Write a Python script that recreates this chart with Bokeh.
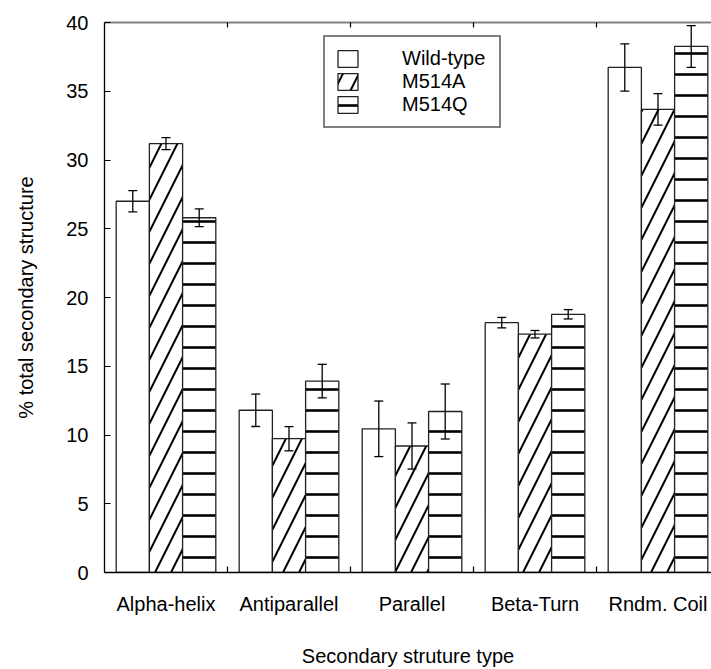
import numpy as np
from bokeh.plotting import figure
from bokeh.models import (ColumnDataSource, Whisker, TeeHead, FixedTicker, LinearAxis,
                          Legend, LegendItem, Range1d)
from bokeh.embed import file_html
from bokeh.resources import INLINE

# ---------------- data ----------------
categories = ["Alpha-helix", "Antiparallel", "Parallel", "Beta-Turn", "Rndm. Coil"]
series_names = ["Wild-type", "M514A", "M514Q"]
wild_type = [27.0, 11.8, 10.45, 18.17, 36.73]
wild_type_err = [0.77, 1.18, 2.02, 0.38, 1.72]
m514a = [31.19, 9.73, 9.2, 17.33, 33.68]
m514a_err = [0.44, 0.88, 1.68, 0.27, 1.15]
m514q = [25.8, 13.92, 11.71, 18.78, 38.26]
m514q_err = [0.65, 1.22, 2.0, 0.34, 1.52]
y_ticks = [0, 5, 10, 15, 20, 25, 30, 35, 40]
y_label = "% total secondary structure"
x_label = "Secondary struture type"

FONT = "Liberation Sans"

n = len(categories)
centers = np.arange(n) + 0.5
boundaries = list(np.arange(1, n).astype(float))
bar_w = 0.27
offsets = [-bar_w, 0.0, bar_w]

p = figure(width=711, height=669, output_backend="svg", toolbar_location=None,
           x_range=Range1d(0, 607 / 123), y_range=Range1d(0, 40),
           min_border_left=104, min_border_right=0, min_border_top=22, min_border_bottom=96,
           tools="")
p.outline_line_color = None
p.xgrid.visible = False
p.ygrid.visible = False
p.background_fill_color = "white"
p.border_fill_color = "white"

styles = [
    dict(),
    dict(hatch_pattern="/", hatch_scale=32, hatch_weight=2.0, hatch_color="black"),
    dict(hatch_pattern="-", hatch_scale=21, hatch_weight=2.6, hatch_color="black"),
]

vals = [wild_type, m514a, m514q]
errs = [wild_type_err, m514a_err, m514q_err]
renderers = []
for k in range(3):
    xs = centers + offsets[k]
    src = ColumnDataSource(dict(x=xs, top=vals[k],
                                upper=np.array(vals[k]) + np.array(errs[k]),
                                lower=np.array(vals[k]) - np.array(errs[k])))
    r = p.vbar(x="x", top="top", bottom=0, width=bar_w, source=src,
               fill_color="white", line_color="#222222", line_width=1.3, **styles[k])
    renderers.append(r)
    w = Whisker(source=src, base="x", upper="upper", lower="lower", dimension="height",
                line_color="black", line_width=1.3, level="overlay",
                upper_head=TeeHead(size=9, line_color="black", line_width=1.3),
                lower_head=TeeHead(size=9, line_color="black", line_width=1.3))
    p.add_layout(w)

# bottom axis
xa = p.xaxis[0]
xa.ticker = FixedTicker(ticks=list(centers), minor_ticks=boundaries)
xa.major_label_overrides = {float(c): name for c, name in zip(centers, categories)}
xa.major_tick_line_color = None
xa.minor_tick_in = 6
xa.minor_tick_out = 0
xa.minor_tick_line_color = "black"
xa.minor_tick_line_width = 1.2
xa.axis_line_color = "black"
xa.axis_line_width = 1.3
xa.major_label_text_font = FONT
xa.major_label_text_font_size = "20px"
xa.major_label_text_color = "black"
xa.major_label_standoff = 14
xa.axis_label = x_label
xa.axis_label_text_font = FONT
xa.axis_label_text_font_size = "20px"
xa.axis_label_text_font_style = "normal"
xa.axis_label_text_color = "black"
xa.axis_label_standoff = 27

# left axis
ya = p.yaxis[0]
ya.ticker = FixedTicker(ticks=y_ticks, minor_ticks=[])
ya.major_tick_in = 6
ya.major_tick_out = 0
ya.major_tick_line_color = "black"
ya.major_tick_line_width = 1.2
ya.axis_line_color = "black"
ya.axis_line_width = 1.3
ya.major_label_text_font = FONT
ya.major_label_text_font_size = "20px"
ya.major_label_text_color = "black"
ya.major_label_standoff = 16
ya.axis_label = y_label
ya.axis_label_text_font = FONT
ya.axis_label_text_font_size = "20px"
ya.axis_label_text_font_style = "normal"
ya.axis_label_text_color = "black"
ya.axis_label_standoff = 26

# top axis (frame line with separator ticks)
top = LinearAxis(ticker=FixedTicker(ticks=[], minor_ticks=boundaries),
                 major_label_text_font_size="0px", major_tick_line_color=None,
                 minor_tick_in=5, minor_tick_out=0, minor_tick_line_color="black",
                 minor_tick_line_width=1.2, axis_line_color="#808080", axis_line_width=2)
p.add_layout(top, "above")

legend = Legend(items=[LegendItem(label=s, renderers=[r]) for s, r in zip(series_names, renderers)],
                location=(219, 444), padding=10, spacing=0, glyph_width=25, glyph_height=21,
                label_height=23, label_standoff=42, label_width=87,
                border_line_color="black", border_line_width=2,
                background_fill_color="white", background_fill_alpha=1.0,
                label_text_font=FONT, label_text_font_size="20px", label_text_color="black")
p.add_layout(legend)

open("out.html", "w").write(file_html(p, INLINE))
